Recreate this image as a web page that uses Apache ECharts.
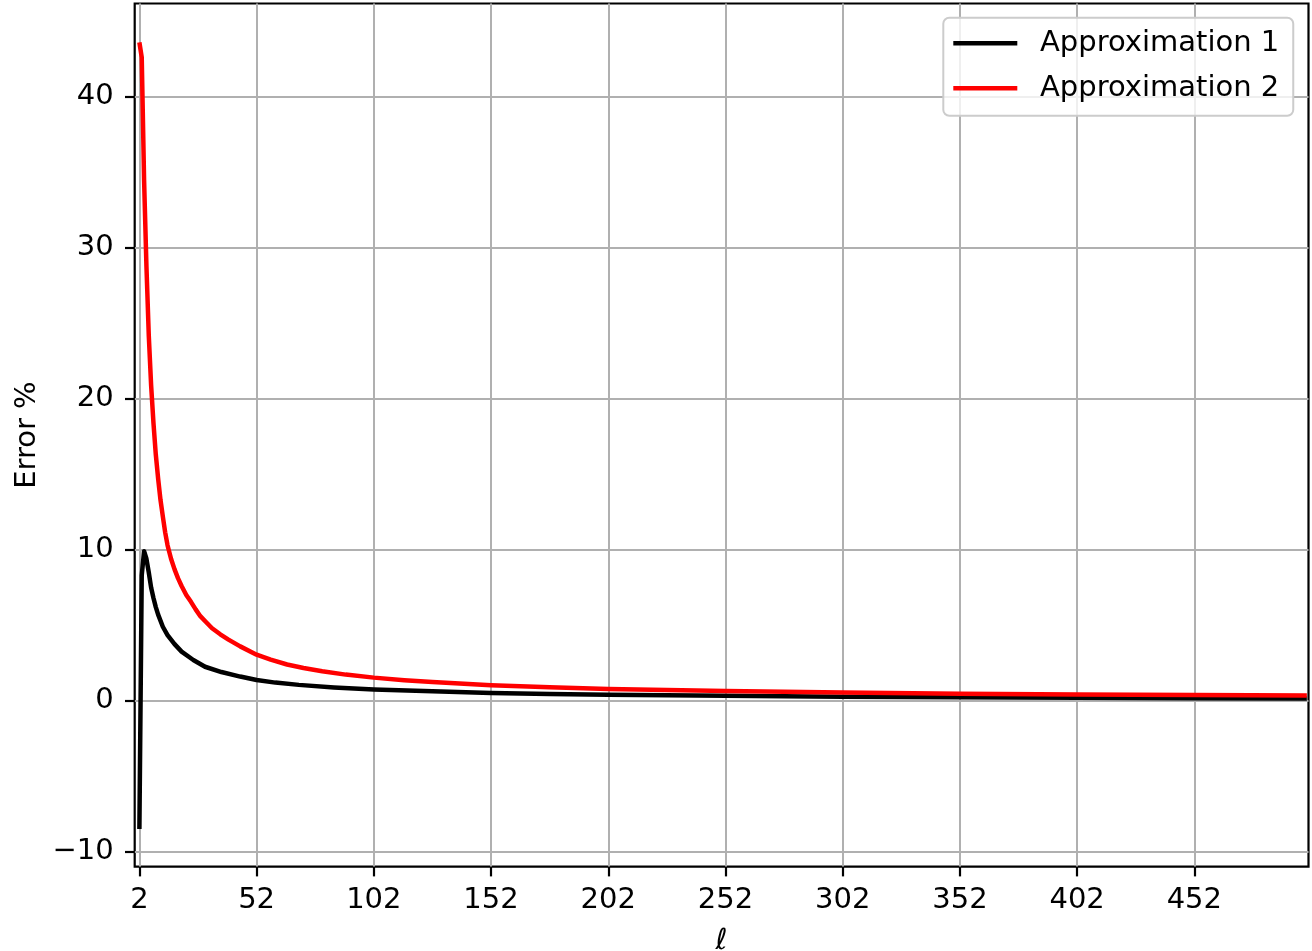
<!DOCTYPE html>
<html lang="en">
<head>
    <meta charset="UTF-8">
    <title>Error %</title>
    <script src="https://cdn.jsdelivr.net/npm/echarts@6/dist/echarts.min.js"></script>
    <style>
        html, body {margin: 0; padding: 0; background: #fff;}
    </style>
</head>
<body>
<div id="main" style="width: 1312px;height:951px;"></div>
<script type="text/javascript">
    // tick labels
    var xTicks = [2, 52, 102, 152, 202, 252, 302, 352, 402, 452];
    var yTicks = [-10, 0, 10, 20, 30, 40];
    // Approximation 1 (black)
    var ell1 = [2, 3, 4, 5, 6, 7, 8, 9, 10, 12, 14, 17, 20, 25, 30, 37, 45, 52, 60, 70, 85, 102, 127, 152, 177, 202, 252, 302, 352, 402, 452, 500];
    var err1 = [-8.5, 8.3, 9.9, 9.4, 8.5, 7.5, 6.8, 6.2, 5.7, 4.9, 4.35, 3.75, 3.25, 2.7, 2.25, 1.9, 1.6, 1.37, 1.2, 1.05, 0.88, 0.74, 0.62, 0.52, 0.45, 0.40, 0.33, 0.27, 0.23, 0.19, 0.16, 0.15];
    // Approximation 2 (red)
    var ell2 = [2, 3, 4, 5, 6, 7, 8, 9, 10, 11, 12, 13, 14, 15.5, 17, 18.5, 20, 22, 24, 26, 28, 30.5, 33, 36.5, 40, 45, 52, 58, 65, 72, 80, 90, 102, 115, 127, 152, 177, 202, 252, 302, 352, 402, 452, 500];
    var err2 = [43.6, 42.6, 34.5, 28.8, 24.2, 20.9, 18.4, 16.3, 14.7, 13.3, 12.2, 11.15, 10.3, 9.4, 8.7, 8.1, 7.6, 7.0, 6.55, 6.05, 5.6, 5.2, 4.8, 4.4, 4.05, 3.6, 3.05, 2.72, 2.4, 2.17, 1.95, 1.73, 1.53, 1.36, 1.24, 1.03, 0.89, 0.78, 0.64, 0.54, 0.47, 0.42, 0.38, 0.35];

    var font = 'DejaVu Sans';
    var fs = 29;

    function pairs(xs, ys) {
        var out = [];
        for (var i = 0; i < xs.length; i++) {
            out.push([xs[i], ys[i]]);
        }
        return out;
    }

    function minusFmt(v) {
        return v < 0 ? '\u2212' + Math.abs(v) : String(v);
    }

    var myChart = echarts.init(document.getElementById('main'));
    var option = {
        animation: false,
        backgroundColor: '#ffffff',
        textStyle: {fontFamily: font},
        grid: {
            left: 134.7, top: 3.5, width: 1173.8, height: 863.2,
            outerBoundsMode: 'none',
            show: true, borderColor: '#000', borderWidth: 2.2, backgroundColor: 'transparent'
        },
        legend: {
            orient: 'vertical',
            left: 943.3,
            top: 17.8,
            padding: [11, 14, 13, 10],
            itemWidth: 64,
            itemHeight: 4.4,
            itemGap: 16,
            icon: 'rect',
            backgroundColor: 'rgba(255,255,255,0.8)',
            borderColor: '#cccccc',
            borderWidth: 2,
            borderRadius: 6,
            textStyle: {fontFamily: font, fontSize: fs, color: '#000', padding: [0, 0, 0, 17.7]},
            data: ['Approximation 1', 'Approximation 2']
        },
        xAxis: {
            type: 'value', min: 0, max: 500.7,
            name: 'ℓ', nameLocation: 'middle', nameGap: 60,
            nameTextStyle: {fontFamily: font, fontSize: fs, fontStyle: 'italic', color: '#000'},
            axisLine: {show: false, onZero: false},
            axisTick: {show: true, length: 9.7, customValues: xTicks, lineStyle: {color: '#000', width: 2.2}},
            axisLabel: {show: true, margin: 19, color: '#000', fontFamily: font, fontSize: fs, customValues: xTicks},
            splitLine: {show: true, customValues: xTicks, lineStyle: {color: '#b0b0b0', width: 2}}
        },
        yAxis: {
            type: 'value', min: -10.99, max: 46.17,
            name: 'Error %', nameLocation: 'middle', nameGap: 93,
            nameTextStyle: {fontFamily: font, fontSize: fs, color: '#000'},
            axisLine: {show: false, onZero: false},
            axisTick: {show: true, length: 9.7, customValues: yTicks, lineStyle: {color: '#000', width: 2.2}},
            axisLabel: {
                show: true, margin: 21, color: '#000', fontFamily: font, fontSize: fs,
                customValues: yTicks, formatter: minusFmt
            },
            splitLine: {show: true, customValues: yTicks, lineStyle: {color: '#b0b0b0', width: 2}}
        },
        series: [
            {
                name: 'Approximation 1',
                type: 'line',
                showSymbol: false,
                color: '#000000',
                lineStyle: {color: '#000000', width: 4.5, join: 'round'},
                z: 5,
                data: pairs(ell1, err1)
            },
            {
                name: 'Approximation 2',
                type: 'line',
                showSymbol: false,
                color: '#ff0000',
                lineStyle: {color: '#ff0000', width: 4.5, join: 'round'},
                z: 6,
                data: pairs(ell2, err2)
            }
        ]
    };
    myChart.setOption(option);
</script>
</body>
</html>
